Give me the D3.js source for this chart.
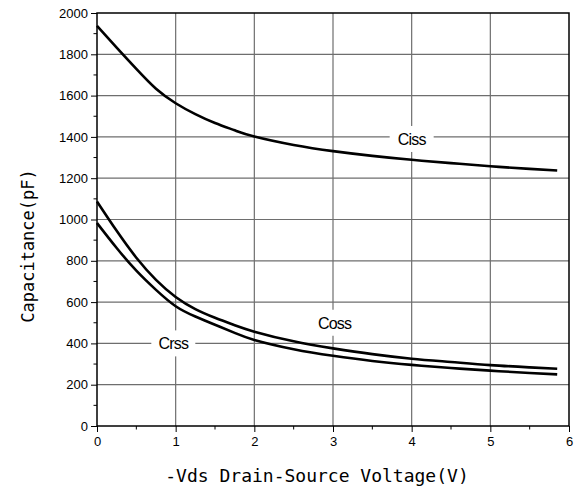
<!DOCTYPE html>
<html>
<head>
<meta charset="utf-8">
<script src="https://cdn.jsdelivr.net/npm/d3@7"></script>
<style>
body { margin: 0; background: white; }
</style>
</head>
<body>
<svg width="585" height="495"></svg>
<script>
// values
var vds  = [0, 0.25, 0.5, 0.75, 1, 1.25, 1.5, 1.75, 2, 2.5, 3, 3.5, 4, 4.5, 5, 5.5, 5.85];
var ciss = [1938, 1832, 1729, 1633, 1563, 1510, 1467, 1432, 1402, 1361, 1331, 1308, 1289, 1273, 1258, 1245, 1237];
var coss = [1087, 945, 815, 708, 625, 566, 524, 488, 457, 410, 376, 348, 326, 310, 295, 284, 277];
var crss = [983, 862, 752, 659, 580, 530, 490, 451, 417, 372, 340, 315, 296, 281, 268, 257, 250];
var xTicks = [0, 1, 2, 3, 4, 5, 6];
var yTicks = [0, 200, 400, 600, 800, 1000, 1200, 1400, 1600, 1800, 2000];
var labels = [
    { text: 'Ciss', v: 4.0, c: 1390 },
    { text: 'Coss', v: 3.02, c: 500 },
    { text: 'Crss', v: 0.97, c: 400 }
];

var svg = d3.select('svg');

var margin = {top: 13, right: 16, bottom: 69, left: 97},
    width = +svg.attr('width') - margin.left - margin.right,
    height = +svg.attr('height') - margin.top - margin.bottom;

var g = svg.append('g')
    .attr('transform', 'translate(' + margin.left + ',' + margin.top + ')');

var x = d3.scaleLinear().domain([0, 6]).range([0, width]);
var y = d3.scaleLinear().domain([0, 2000]).range([height, 0]);

// grid
g.append('g').selectAll('line')
    .data(xTicks.slice(1, -1))
    .enter().append('line')
    .attr('x1', function (d) { return x(d); })
    .attr('x2', function (d) { return x(d); })
    .attr('y1', 0).attr('y2', height)
    .attr('stroke', '#6e6e6e').attr('stroke-width', 1.2);

g.append('g').selectAll('line')
    .data(yTicks.slice(1, -1))
    .enter().append('line')
    .attr('y1', function (d) { return y(d); })
    .attr('y2', function (d) { return y(d); })
    .attr('x1', 0).attr('x2', width)
    .attr('stroke', '#6e6e6e').attr('stroke-width', 1.2);

// axes
var xAxis = d3.axisBottom(x).tickValues(xTicks).tickFormat(d3.format('d'))
    .tickSize(6).tickPadding(5);
var yAxis = d3.axisLeft(y).tickValues(yTicks).tickFormat(d3.format('d'))
    .tickSize(6).tickPadding(3);

var xg = g.append('g')
    .attr('transform', 'translate(0,' + height + ')')
    .call(xAxis);
var yg = g.append('g').call(yAxis);

// minor ticks
xg.selectAll('.minor')
    .data(d3.range(0.5, 6, 1))
    .enter().append('line')
    .attr('x1', function (d) { return x(d); })
    .attr('x2', function (d) { return x(d); })
    .attr('y1', 0).attr('y2', 3.5)
    .attr('stroke', 'black');
yg.selectAll('.minor')
    .data(d3.range(100, 2000, 200))
    .enter().append('line')
    .attr('y1', function (d) { return y(d); })
    .attr('y2', function (d) { return y(d); })
    .attr('x1', 0).attr('x2', -3.5)
    .attr('stroke', 'black');

[xg, yg].forEach(function (a) {
    a.select('.domain').remove();
    a.selectAll('.tick text')
        .style('font-family', 'Liberation Sans, Arial, sans-serif')
        .style('font-size', '13px')
        .attr('fill', 'black');
    a.selectAll('.tick line').attr('stroke', 'black');
});

// frame
g.append('rect')
    .attr('width', width).attr('height', height)
    .attr('fill', 'none')
    .attr('stroke', 'black').attr('stroke-width', 1.5);

// curves
var line = d3.line()
    .x(function (d) { return x(d[0]); })
    .y(function (d) { return y(d[1]); })
    .curve(d3.curveNatural);

[ciss, coss, crss].forEach(function (s) {
    g.append('path')
        .datum(d3.zip(vds, s))
        .attr('d', line)
        .attr('fill', 'none')
        .attr('stroke', 'black')
        .attr('stroke-width', 2.6);
});

// curve labels
var lab = g.selectAll('.lab')
    .data(labels)
    .enter().append('g')
    .attr('transform', function (d) {
        return 'translate(' + x(d.v) + ',' + y(d.c) + ')';
    });
lab.append('rect')
    .attr('x', -22).attr('y', -13)
    .attr('width', 44).attr('height', 26)
    .attr('fill', 'white');
lab.append('text')
    .text(function (d) { return d.text; })
    .attr('text-anchor', 'middle')
    .attr('dy', '0.36em')
    .style('font-family', 'Liberation Sans, Arial, sans-serif')
    .style('font-size', '16px')
    .style('letter-spacing', '-0.8px');

// axis titles
svg.append('text')
    .attr('x', 317).attr('y', 482)
    .attr('text-anchor', 'middle')
    .style('font-family', 'DejaVu Sans Mono, monospace')
    .style('font-size', '18px')
    .text('-Vds Drain-Source Voltage(V)');

svg.append('text')
    .attr('transform', 'translate(34,246) rotate(-90)')
    .attr('text-anchor', 'middle')
    .style('font-family', 'DejaVu Sans Mono, monospace')
    .style('font-size', '17px')
    .text('Capacitance(pF)');
</script>
</body>
</html>
